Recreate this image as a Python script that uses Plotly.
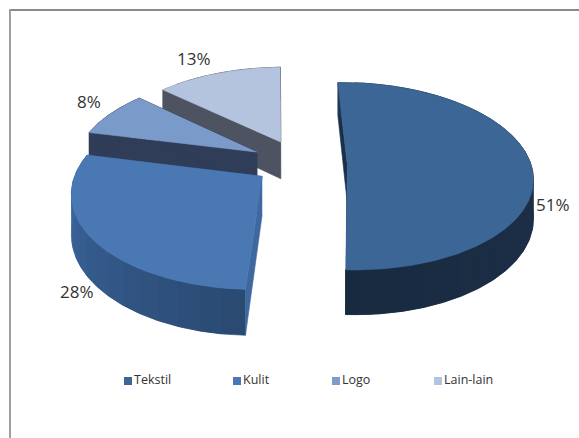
import numpy as np
import plotly.graph_objects as go

# Data
categories = ["Tekstil", "Kulit", "Logo", "Lain-lain"]
values = [51, 28, 8, 13]

# Slice styling: top face, radial wall, arc wall start and end shades
top_colors = ["#3B6696", "#4A78B3", "#7A9ACA", "#B4C3DE"]
radial_colors = ["#1B2F49", "#3F68A0", "#2F3D58", "#4D5360"]
arc_from = ["#21364F", "#2A4A72", "#2F3D58", "#4D5360"]
arc_to = ["#182A40", "#3F6CA8", "#2F3D58", "#4D5360"]
legend_colors = ["#3B6696", "#4A78B3", "#7E9BCA", "#B4C3DE"]

# Ground-plane offset of each exploded slice (x, y)
offsets = [(0.24, -0.007), (-0.218, -0.157), (-0.254, 0.105), (-0.125, 0.22)]

# Data label and legend placement
label_pos = [(553, 204), (77, 291), (89, 101), (194, 58)]
legend_x = [128, 237, 336, 438]
legend_y = 381

# Perspective projection of the pie plane onto the canvas
OX, OY, RX, RY, PERSP, DEPTH, ROT = 303, 161.5, 183, 91.4, 0.15, 38, -1.2


def project(gx, gy):
    w = 1 + PERSP * gy
    return OX + RX * gx / w, OY - RY * gy / w, DEPTH / w


def blend(c1, c2, t):
    a = [int(c1[i:i + 2], 16) for i in (1, 3, 5)]
    b = [int(c2[i:i + 2], 16) for i in (1, 3, 5)]
    return "rgb(%d,%d,%d)" % tuple(round(p + (q - p) * t) for p, q in zip(a, b))


def polygon(xs, ys, color):
    return go.Scatter(x=list(xs), y=list(ys), mode="lines", fill="toself",
                      fillcolor=color, line=dict(color=color, width=0.6),
                      hoverinfo="skip", showlegend=False)


def wedge(index, start, end):
    cx, cy = offsets[index]
    traces = []
    apex = project(cx, cy)
    th = np.radians(np.linspace(start, end, max(int(end - start), 6) + 1))
    px, py, pd = project(cx + np.sin(th), cy + np.cos(th))

    # Radial side walls
    for j in (0, -1):
        traces.append(polygon(
            [apex[0], px[j], px[j], apex[0]],
            [apex[1], py[j], py[j] + pd[j], apex[1] + apex[2]],
            radial_colors[index]))

    # Curved outer wall in overlapping shaded bands
    step = 6
    n = len(th) - 1
    for k in range(0, n, step):
        m = min(k + 2 * step, n)
        shade = blend(arc_from[index], arc_to[index], k / max(n - 1, 1))
        xs = np.r_[px[k:m + 1], px[k:m + 1][::-1]]
        ys = np.r_[py[k:m + 1], (py + pd)[k:m + 1][::-1]]
        traces.append(polygon(xs, ys, shade))

    # Top face
    traces.append(polygon(
        np.r_[apex[0], px], np.r_[apex[1], py], top_colors[index]))
    return traces


bounds = ROT + np.r_[0, np.cumsum(values)] * 3.6
fig = go.Figure()

# Far slices first so nearer ones paint over them
for i in (3, 2, 1, 0):
    fig.add_traces(wedge(i, bounds[i], bounds[i + 1]))

# Legend keys and their names
for name, color, lx in zip(categories, legend_colors, legend_x):
    fig.add_trace(go.Scatter(
        x=[lx], y=[legend_y], mode="markers+text", text=[name],
        textposition="middle right",
        textfont=dict(family="Open Sans", size=12.5, color="#333333"),
        marker=dict(symbol="square", size=8, color=color),
        hoverinfo="skip", showlegend=False, name=name))

# Percentage labels
for v, (lx, ly) in zip(values, label_pos):
    fig.add_annotation(x=lx, y=ly, text=f"{v}%", showarrow=False,
                       font=dict(family="Open Sans", size=17, color="#333333"))

# Chart frame: top and left rules
fig.add_shape(type="line", x0=9, x1=579, y0=10, y1=10,
              line=dict(color="#8A8A8A", width=2))
fig.add_shape(type="line", x0=10, x1=10, y0=9, y1=438,
              line=dict(color="#A0A0A0", width=2))

fig.update_layout(
    width=579, height=438, margin=dict(l=0, r=0, t=0, b=0),
    paper_bgcolor="white", plot_bgcolor="white", showlegend=False,
    xaxis=dict(range=[0, 579], visible=False, fixedrange=True),
    yaxis=dict(range=[438, 0], visible=False, fixedrange=True),
)

fig.write_html("out.html")
